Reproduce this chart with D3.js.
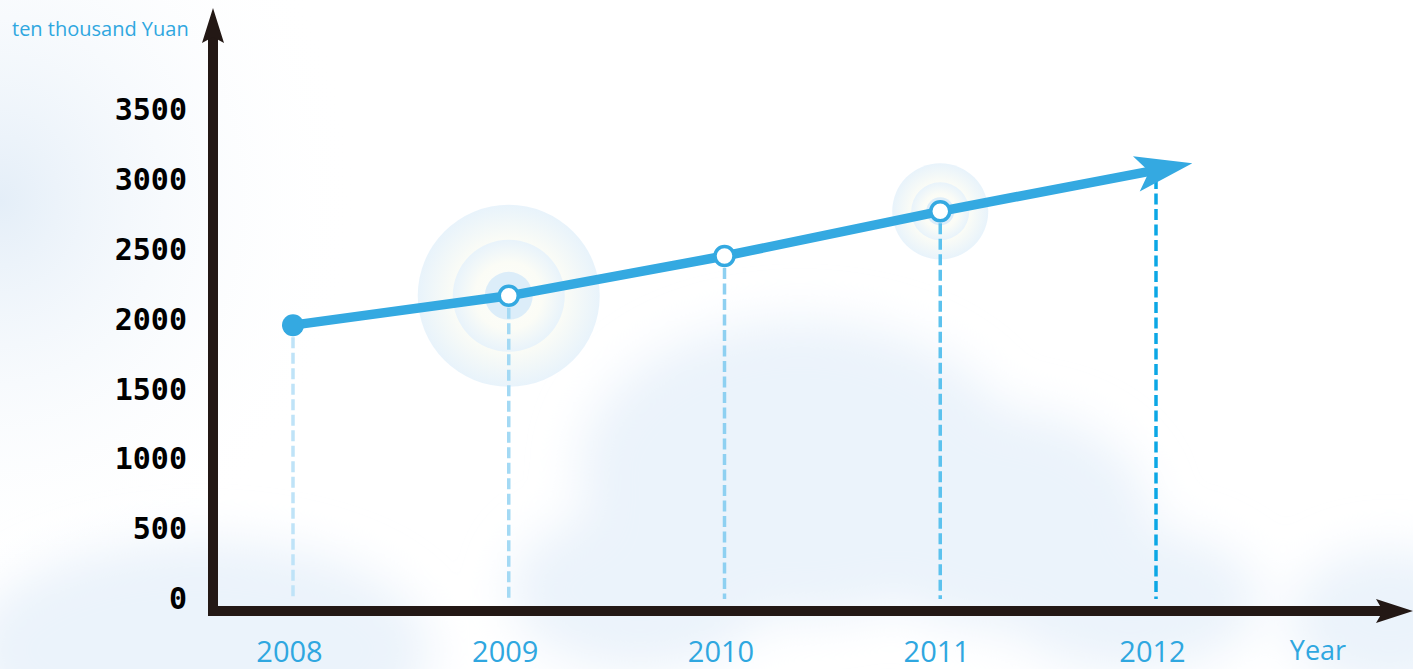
<!DOCTYPE html>
<html>
<head>
<meta charset="utf-8">
<script src="https://cdn.jsdelivr.net/npm/d3@7"></script>
<style>
    html, body { margin: 0; padding: 0; background: #fff; overflow: hidden; }
</style>
</head>
<body>
<div id="graph"></div>
<script>
// data
var years = ["2008", "2009", "2010", "2011", "2012"];
var values = [1960, 2170, 2455, 2775, 3070];
var yTicks = [0, 500, 1000, 1500, 2000, 2500, 3000, 3500];
var haloYears = ["2009", "2011"];

let svgWidth = 1413;
let svgHeight = 669;

let axisColor = "#231815";
let lineColor = "#34a9e1";
let textBlue = "#2fa7e0";
let dashColors = ["#bfe3f8", "#a3d9f4", "#8ed0f1", "#5cc2ee", "#0ba7e5"];

let originX = 213;
let originY = 611;

let xScale = d3.scalePoint()
    .domain(years)
    .range([293, 1156]);

let yScale = d3.scaleLinear()
    .domain([0, 3500])
    .range([599, 110]);

let svg = d3.select("#graph")
    .append("svg")
    .attr("width", svgWidth)
    .attr("height", svgHeight);

let defs = svg.append("defs");

defs.append("filter")
    .attr("id", "blur")
    .attr("x", "-50%").attr("y", "-50%")
    .attr("width", "200%").attr("height", "200%")
    .append("feGaussianBlur")
    .attr("stdDeviation", 24);

let leftGrad = defs.append("radialGradient")
    .attr("id", "leftTint")
    .attr("cx", 0).attr("cy", 0.3).attr("r", 0.6);
leftGrad.append("stop").attr("offset", "0%").attr("stop-color", "#e4eef8");
leftGrad.append("stop").attr("offset", "100%").attr("stop-color", "#ffffff").attr("stop-opacity", 0);

let haloGrad = defs.append("radialGradient")
    .attr("id", "halo");
haloGrad.append("stop").attr("offset", "0%").attr("stop-color", "#fefefa");
haloGrad.append("stop").attr("offset", "60%").attr("stop-color", "#fbfcf6");
haloGrad.append("stop").attr("offset", "100%").attr("stop-color", "#e8f3fb");

// background
svg.append("rect")
    .attr("width", svgWidth)
    .attr("height", svgHeight)
    .attr("fill", "#ffffff");

svg.append("rect")
    .attr("width", 600)
    .attr("height", svgHeight)
    .attr("fill", "url(#leftTint)");

let clouds = [
    [800, 470, 220, 150],
    [1000, 520, 150, 110],
    [1130, 600, 130, 70],
    [640, 590, 130, 80],
    [200, 650, 230, 110],
    [1390, 620, 100, 70]
];

svg.append("g")
    .attr("filter", "url(#blur)")
    .selectAll("ellipse")
    .data(clouds)
    .enter()
    .append("ellipse")
    .attr("cx", (d) => d[0])
    .attr("cy", (d) => d[1])
    .attr("rx", (d) => d[2])
    .attr("ry", (d) => d[3])
    .attr("fill", "#ebf3fb");

// halos behind 2009 and 2011
let haloRadii = {"2009": [91, 56, 24], "2011": [48, 29, 14]};

haloYears.forEach((yr) => {
    let i = years.indexOf(yr);
    let g = svg.append("g");
    haloRadii[yr].forEach((r, k) => {
        g.append("circle")
            .attr("cx", xScale(yr))
            .attr("cy", yScale(values[i]))
            .attr("r", r)
            .attr("fill", k == 2 ? "#dcedf9" : "url(#halo)");
    });
});

// dashed drop lines
svg.selectAll("line.drop")
    .data(values)
    .enter()
    .append("line")
    .attr("class", "drop")
    .attr("x1", (d, i) => xScale(years[i]))
    .attr("x2", (d, i) => xScale(years[i]))
    .attr("y1", (d, i) => yScale(d) + (i == 4 ? 8 : 12))
    .attr("y2", yScale(0))
    .attr("stroke", (d, i) => dashColors[i])
    .attr("stroke-width", 3.5)
    .attr("stroke-dasharray", "11,4.5");

// axes
svg.append("line")
    .attr("x1", originX).attr("y1", originY)
    .attr("x2", originX).attr("y2", 30)
    .attr("stroke", axisColor)
    .attr("stroke-width", 10);

svg.append("line")
    .attr("x1", originX - 5).attr("y1", originY)
    .attr("x2", 1385).attr("y2", originY)
    .attr("stroke", axisColor)
    .attr("stroke-width", 10);

svg.append("path")
    .attr("d", "M" + originX + ",8 L" + (originX - 11) + ",43 L" + originX + ",37 L" + (originX + 11) + ",43 Z")
    .attr("fill", axisColor);

svg.append("path")
    .attr("d", "M1413," + originY + " L1376," + (originY - 12) + " L1383," + originY + " L1376," + (originY + 12) + " Z")
    .attr("fill", axisColor);

let yAxis = d3.axisLeft()
    .scale(yScale)
    .tickValues(yTicks)
    .tickFormat(d3.format("d"))
    .tickSize(0)
    .tickPadding(26);

let yAxisG = svg.append("g")
    .attr("class", "y axis")
    .attr("transform", "translate(" + originX + ",0)")
    .call(yAxis);

yAxisG.select(".domain").remove();
yAxisG.selectAll("text")
    .attr("font-family", "'DejaVu Sans Mono', monospace")
    .attr("font-weight", "bold")
    .attr("font-size", "30px")
    .attr("fill", "#000");

let xAxis = d3.axisBottom()
    .scale(xScale)
    .tickSize(0)
    .tickPadding(30);

let xAxisG = svg.append("g")
    .attr("class", "x axis")
    .attr("transform", "translate(-4," + originY + ")")
    .call(xAxis);

xAxisG.select(".domain").remove();
xAxisG.selectAll("text")
    .attr("font-family", "'Open Sans', sans-serif")
    .attr("font-size", "29px")
    .attr("fill", textBlue);

// axis titles
svg.append("text")
    .text("ten thousand Yuan")
    .attr("x", 12)
    .attr("y", 36)
    .attr("font-family", "'Open Sans', sans-serif")
    .attr("font-size", "20px")
    .attr("fill", textBlue);

svg.append("text")
    .text("Year")
    .attr("x", 1318)
    .attr("y", 660)
    .attr("text-anchor", "middle")
    .attr("font-family", "'Open Sans', sans-serif")
    .attr("font-size", "27px")
    .attr("fill", textBlue);

// the trend line
let line = d3.line()
    .x((d, i) => xScale(years[i]))
    .y((d) => yScale(d));

svg.append("path")
    .datum(values)
    .attr("d", line)
    .attr("fill", "none")
    .attr("stroke", lineColor)
    .attr("stroke-width", 9.5)
    .attr("stroke-linejoin", "round");

// arrow head past the last point
let n = values.length;
let ax = xScale(years[n - 1]), ay = yScale(values[n - 1]);
let bx = xScale(years[n - 2]), by = yScale(values[n - 2]);
let len = Math.hypot(ax - bx, ay - by);
let ux = (ax - bx) / len, uy = (ay - by) / len;
let vx = -uy, vy = ux;
let tipX = ax + ux * 37, tipY = ay + uy * 37;

function headPt(u, v) {
    return (tipX + ux * u + vx * v) + "," + (tipY + uy * u + vy * v);
}

svg.append("path")
    .attr("d", "M" + headPt(0, 0) + " L" + headPt(-57, -18) + " L" + headPt(-44, 0) + " L" + headPt(-57, 18) + " Z")
    .attr("fill", lineColor);

// point markers
svg.selectAll("circle.pt")
    .data(values.slice(0, 4))
    .enter()
    .append("circle")
    .attr("class", "pt")
    .attr("cx", (d, i) => xScale(years[i]))
    .attr("cy", (d) => yScale(d))
    .attr("r", (d, i) => i == 0 ? 11 : 9.5)
    .attr("fill", (d, i) => i == 0 ? lineColor : "#ffffff")
    .attr("stroke", lineColor)
    .attr("stroke-width", (d, i) => i == 0 ? 0 : 3.5);
</script>
</body>
</html>
